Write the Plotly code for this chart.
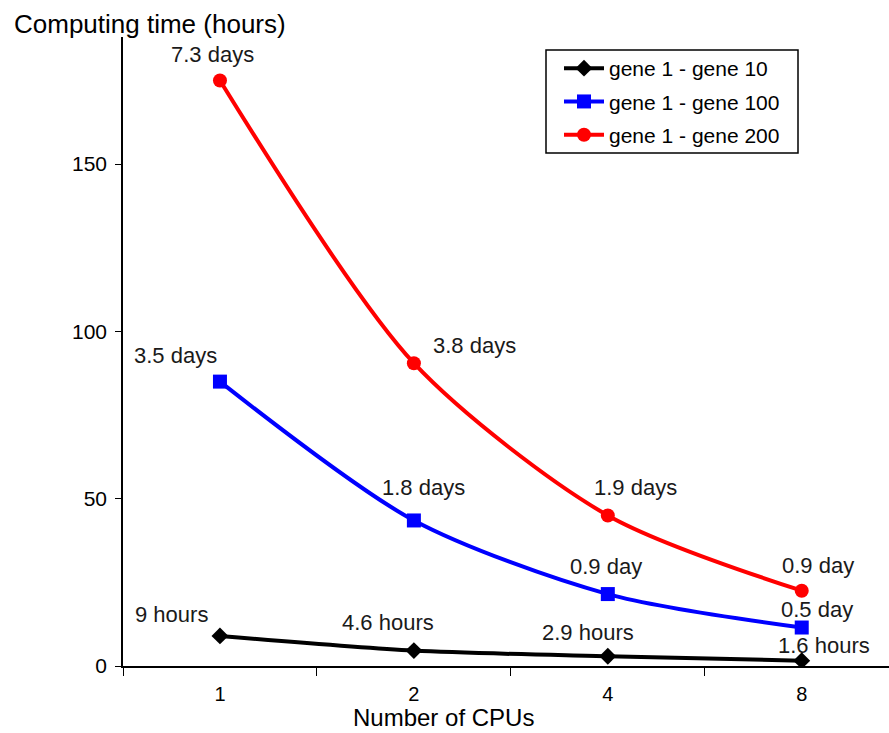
import plotly.graph_objects as go

cpus = ["1", "2", "4", "8"]
names = ["gene 1 - gene 10", "gene 1 - gene 100", "gene 1 - gene 200"]
hours_10 = [9, 4.6, 2.9, 1.6]
hours_100 = [85, 43.5, 21.5, 11.5]
hours_200 = [175, 90.5, 45, 22.5]
labels_10 = ["9 hours", "4.6 hours", "2.9 hours", "1.6 hours"]
labels_100 = ["3.5 days", "1.8 days", "0.9 day", "0.5 day"]
labels_200 = ["7.3 days", "3.8 days", "1.9 days", "0.9 day"]
y_ticks = [0, 50, 100, 150]

colors = ["black", "#0000FF", "#FF0000"]
symbols = ["diamond", "square", "circle"]
msizes = [13, 14, 14]
series = [hours_10, hours_100, hours_200]
labels = [labels_10, labels_100, labels_200]
# pixel offsets of each label relative to its point (style only)
offsets = [
    [(-48, 21), (-26, 28), (-20, 24), (22, 15)],
    [(-44, 26), (10, 33), (-2, 28), (15, 18)],
    [(-7, 26), (61, 18), (28, 28), (16, 25)],
]

# plot-area geometry in pixels (style)
L, T, W, H = 123, 37, 766, 629


def px(xp):
    return (xp - L) / W


def py(yp):
    return (T + H - yp) / H


fig = go.Figure()
for i, (name, ys, c, s, ms) in enumerate(zip(names, series, colors, symbols, msizes)):
    fig.add_trace(go.Scatter(
        x=cpus, y=ys, name=name, mode="lines+markers", legendgroup=f"g{i}",
        line=dict(color=c, width=4, shape="spline", smoothing=0.8),
        marker=dict(symbol=s, size=ms, color=c),
    ))

for ys, labs, offs in zip(series, labels, offsets):
    for idx, (yv, lab, (dx, dy)) in enumerate(zip(ys, labs, offs)):
        fig.add_annotation(x=idx, y=yv, text=lab, showarrow=False,
                           xshift=dx, yshift=dy,
                           font=dict(size=22, color="#1a1a1a"))

fig.add_annotation(text="Computing time (hours)", xref="paper", yref="paper",
                   x=px(12), y=py(24), xanchor="left", yanchor="middle",
                   showarrow=False, font=dict(size=26, color="black"))
fig.add_annotation(text="Number of CPUs", xref="paper", yref="paper",
                   x=px(443), y=py(717), xanchor="center", yanchor="middle",
                   showarrow=False, font=dict(size=24, color="black"))

# legend frame
fig.add_shape(type="rect", xref="paper", yref="paper",
              x0=px(546), x1=px(798), y0=py(153), y1=py(50),
              line=dict(color="black", width=1.5), fillcolor="rgba(0,0,0,0)",
              layer="above")

fig.update_layout(
    width=889, height=733,
    margin=dict(l=L, r=0, t=T, b=733 - T - H),
    paper_bgcolor="white", plot_bgcolor="white",
    font=dict(family="Liberation Sans, Arial, sans-serif", color="black"),
    showlegend=True,
    legend=dict(x=px(559), y=py(48), xanchor="left", yanchor="top",
                borderwidth=0, bgcolor="rgba(0,0,0,0)",
                font=dict(size=21), itemwidth=40, tracegroupgap=3),
    xaxis=dict(type="category", range=[-0.5, 3.45], tickson="boundaries",
               ticks="outside", ticklen=8, tickcolor="black",
               showline=True, linecolor="black", linewidth=1.5,
               showgrid=False, zeroline=False, tickfont=dict(size=20),
               ticklabelstandoff=9),
    yaxis=dict(range=[0, 188], tickvals=y_ticks, ticks="outside", ticklen=6,
               tickcolor="black", showline=True, linecolor="black", linewidth=1.5,
               showgrid=False, zeroline=False, tickfont=dict(size=21),
               ticklabelstandoff=4),
)

fig.write_html("out.html")
